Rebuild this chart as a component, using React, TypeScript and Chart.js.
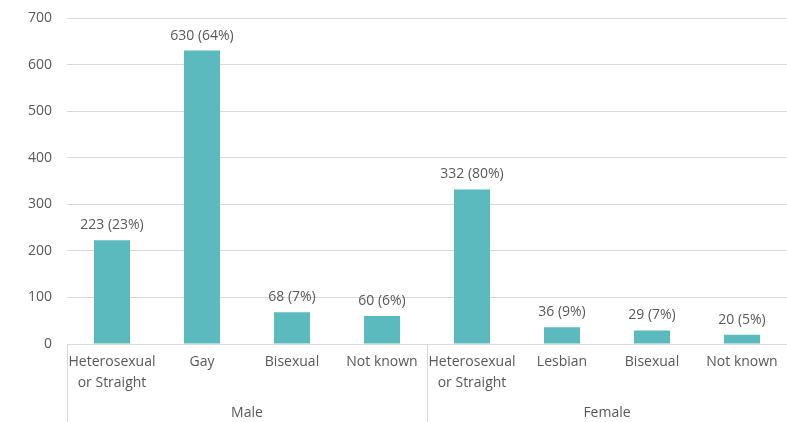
import React, { useEffect, useRef } from "react";
import { Chart, registerables } from "chart.js";

Chart.register(...registerables);

const categories: (string | string[])[] = [
  ["Heterosexual", "or Straight"],
  "Gay",
  "Bisexual",
  "Not known",
  ["Heterosexual", "or Straight"],
  "Lesbian",
  "Bisexual",
  "Not known",
];
const counts = [223, 630, 68, 60, 332, 36, 29, 20];
const percents = [23, 64, 7, 6, 80, 9, 7, 5];
const groups = ["Male", "Female"];
const groupSizes = [4, 4];
const yTicks = [0, 100, 200, 300, 400, 500, 600, 700];

const FONT = "'Open Sans', 'Noto Sans', sans-serif";
const TEXT = "#595959";
const GRID = "#d9d9d9";
const BAR = "#5BBABD";

const overlayPlugin = {
  id: "overlay",
  afterDatasetsDraw(chart: any) {
    const ctx = chart.ctx;
    const meta = chart.getDatasetMeta(0);
    ctx.save();
    ctx.font = `14px ${FONT}`;
    ctx.fillStyle = TEXT;
    ctx.textAlign = "center";
    ctx.textBaseline = "bottom";
    meta.data.forEach((bar: any, i: number) => {
      ctx.fillText(`${counts[i]} (${percents[i]}%)`, bar.x, bar.y - 8);
    });
    ctx.restore();
  },
  afterDraw(chart: any) {
    const ctx = chart.ctx;
    const xs = chart.scales.x;
    const n = categories.length;
    const w = (xs.right - xs.left) / n;
    const top = chart.chartArea.bottom;
    const bottom = chart.height;
    ctx.save();
    ctx.strokeStyle = GRID;
    ctx.lineWidth = 1;
    let start = 0;
    const bounds: number[] = [0];
    groupSizes.forEach((s) => {
      start += s;
      bounds.push(start);
    });
    bounds.forEach((b) => {
      const px = Math.round(xs.getPixelForValue(b) - w / 2) + 0.5;
      if (px > chart.width) return;
      ctx.beginPath();
      ctx.moveTo(px, top);
      ctx.lineTo(px, bottom);
      ctx.stroke();
    });
    ctx.font = `14px ${FONT}`;
    ctx.fillStyle = TEXT;
    ctx.textAlign = "center";
    ctx.textBaseline = "middle";
    groups.forEach((g, gi) => {
      const a = bounds[gi];
      const b = bounds[gi + 1];
      const x0 = xs.getPixelForValue(a) - w / 2;
      const x1 = xs.getPixelForValue(b) - w / 2;
      ctx.fillText(g, (x0 + x1) / 2, 413);
    });
    ctx.restore();
  },
};

export default function App() {
  const ref = useRef<HTMLCanvasElement>(null);
  useEffect(() => {
    document.body.style.margin = "0";
    const chart = new Chart(ref.current!, {
      type: "bar",
      data: {
        labels: categories,
        datasets: [
          {
            data: counts,
            backgroundColor: BAR,
            barPercentage: 0.4,
            categoryPercentage: 1.0,
          },
        ],
      },
      options: {
        animation: false,
        responsive: false,
        maintainAspectRatio: false,
        layout: { padding: { top: 18, right: 0, left: 0, bottom: 0 } },
        plugins: { legend: { display: false }, tooltip: { enabled: false } },
        scales: {
          x: {
            grid: { display: false },
            border: { display: true, color: GRID },
            ticks: {
              color: TEXT,
              font: { family: FONT, size: 14, lineHeight: 1.5 },
              maxRotation: 0,
              autoSkip: false,
              padding: 0,
            },
            afterFit: (s: any) => {
              s.height = 78;
              s.paddingLeft = 0;
              s.paddingRight = 0;
            },
          },
          y: {
            min: 0,
            max: 700,
            afterBuildTicks: (s: any) => {
              s.ticks = yTicks.map((v) => ({ value: v }));
            },
            grid: { color: GRID, drawTicks: false },
            border: { display: false },
            ticks: {
              color: TEXT,
              font: { family: FONT, size: 14 },
              padding: 15,
            },
            afterFit: (s: any) => {
              s.width = 67;
              s.paddingTop = 0;
              s.paddingBottom = 0;
            },
          },
        },
      },
      plugins: [overlayPlugin],
    });
    return () => chart.destroy();
  }, []);
  return (
    <div style={{ width: 787, height: 422 }}>
      <canvas ref={ref} width={787} height={422} style={{ display: "block" }} />
    </div>
  );
}
